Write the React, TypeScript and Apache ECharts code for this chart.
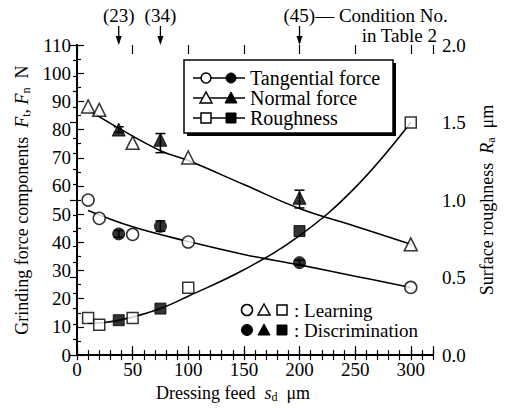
import React, { useEffect, useRef } from "react";
import * as echarts from "echarts";

// Learning data (open markers)
const xLearn = [10, 20, 50, 100, 300];
const tangLearn = [55, 48.5, 42.8, 40.1, 24];
const normLearn = [88.2, 87, 75.3, 70.1, 39.3];
const roughLearn = [0.24, 0.195, 0.24, 0.435, 1.5];

// Discrimination data (filled markers)
const xDisc = [37.5, 75, 200];
const tangDisc = [43, 45.7, 32.8];
const tangErrLow = [41.8, 43.9, 31.9];
const tangErrHigh = [44.2, 47.6, 33.7];
const normDisc = [80, 76.4, 55.8];
const normErrLow = [79, 71.8, 52.2];
const normErrHigh = [81, 78.6, 58.5];
const roughDisc = [0.225, 0.3, 0.8];
const conditionNo = ["(23)", "(34)", "(45)"];

// Fitted curves
const xCurveT = [10, 50, 100, 150, 200, 250, 300];
const tangCurve = [51.3, 45.5, 40.3, 35.7, 32, 28, 24];
const xCurveN = [10, 37.5, 75, 100, 150, 200, 250, 300];
const normCurve = [87, 80.5, 72.5, 69, 60.5, 52, 45.7, 39.3];
const xCurveR = [10, 25, 50, 75, 100, 150, 200, 250, 300];
const roughCurve = [0.205, 0.21, 0.245, 0.3, 0.38, 0.55, 0.77, 1.08, 1.5];

const xTicks = [0, 50, 100, 150, 200, 250, 300];

const FONT = "Liberation Serif, Times New Roman, serif";
const zip = (a: number[], b: number[]) => a.map((v, i) => [v, b[i]]);

export default function App() {
  const ref = useRef<HTMLDivElement>(null);
  useEffect(() => {
    if (!ref.current) return;
    const chart = echarts.init(ref.current, undefined, { renderer: "svg" });
    const axisLine = { show: true, lineStyle: { color: "#000", width: 1.8 } };
    const titleRich = {
      a: { fontFamily: FONT, fontSize: 18, color: "#000" },
      i: { fontFamily: FONT, fontSize: 18, fontStyle: "italic", color: "#000" },
      s: { fontFamily: FONT, fontSize: 12, color: "#000", padding: [8, 0, 0, 0] },
    };
    const errRender = (params: any, api: any) => {
      const x = api.value(0);
      const p1 = api.coord([x, api.value(1)]);
      const p2 = api.coord([x, api.value(2)]);
      const w = 5;
      const st = { stroke: "#000", lineWidth: 1.5 };
      return {
        type: "group",
        children: [
          { type: "line", shape: { x1: p1[0], y1: p1[1], x2: p2[0], y2: p2[1] }, style: st },
          { type: "line", shape: { x1: p1[0] - w, y1: p1[1], x2: p1[0] + w, y2: p1[1] }, style: st },
          { type: "line", shape: { x1: p2[0] - w, y1: p2[1], x2: p2[0] + w, y2: p2[1] }, style: st },
        ],
      };
    };
    const openStyle = { color: "#fff", borderColor: "#000", borderWidth: 1.5 };
    const fillStyle = { color: "#000", borderColor: "#000", borderWidth: 1 };
    const curve = (data: number[][], yAxisIndex: number) => ({
      type: "line",
      data,
      yAxisIndex,
      smooth: 0.4,
      showSymbol: false,
      lineStyle: { color: "#000", width: 1.6 },
      z: 1,
    });
    const scatter = (data: number[][], yAxisIndex: number, symbol: string, size: number, open: boolean) => ({
      type: "scatter",
      data,
      yAxisIndex,
      symbol,
      symbolSize: size,
      itemStyle: open ? openStyle : fillStyle,
      z: 5,
    });
    const majorX = (position: string) => ({
      type: "value",
      position,
      min: 0,
      max: 320,
      interval: 50,
      axisLine: { show: false },
      axisTick: { inside: true, length: 9, lineStyle: { color: "#000", width: 1.2 } },
      splitLine: { show: false },
      axisLabel: { show: false },
    });

    chart.setOption({
      animation: false,
      backgroundColor: "#fff",
      grid: { left: 77, right: 62, top: 45, bottom: 52 },
      xAxis: [
        {
          type: "value",
          position: "bottom",
          min: 0,
          max: 320,
          interval: 10,
          axisLine,
          axisTick: { inside: true, length: 5, lineStyle: { color: "#000", width: 1.2 } },
          splitLine: { show: false },
          axisLabel: {
            color: "#000",
            fontFamily: FONT,
            fontSize: 19,
            margin: 5,
            formatter: (v: number) => (xTicks.includes(v) ? String(v) : ""),
          },
          name: "{a|Dressing feed  }{i|s}{s|d}{a|  μm}",
          nameLocation: "middle",
          nameGap: 27,
          nameTextStyle: { rich: titleRich, padding: [0, 44, 0, 0] },
        },
        {
          type: "value",
          position: "top",
          min: 0,
          max: 320,
          interval: 10,
          axisLine,
          axisTick: { inside: true, length: 5, lineStyle: { color: "#000", width: 1.2 } },
          splitLine: { show: false },
          axisLabel: { show: false },
        },
        majorX("bottom"),
        majorX("top"),
      ],
      yAxis: [
        {
          type: "value",
          position: "left",
          min: 0,
          max: 110,
          interval: 10,
          axisLine,
          axisTick: { inside: true, length: 7, lineStyle: { color: "#000", width: 1.2 } },
          minorTick: { show: true, splitNumber: 2, length: 4, lineStyle: { color: "#000", width: 1.2 } },
          splitLine: { show: false },
          axisLabel: { color: "#000", fontFamily: FONT, fontSize: 19, margin: 6 },
          name: "{a|Grinding force components  }{i|F}{s|t}{a|, }{i|F}{s|n}{a|  N}",
          nameLocation: "middle",
          nameGap: 45,
          nameRotate: 90,
          nameTextStyle: { rich: titleRich },
        },
        {
          type: "value",
          position: "right",
          min: 0,
          max: 2,
          interval: 0.5,
          axisLine,
          axisTick: { inside: true, length: 7, lineStyle: { color: "#000", width: 1.2 } },
          minorTick: { show: true, splitNumber: 5, length: 4, lineStyle: { color: "#000", width: 1.2 } },
          splitLine: { show: false },
          axisLabel: {
            color: "#000",
            fontFamily: FONT,
            fontSize: 19,
            margin: 9,
            formatter: (v: number) => v.toFixed(1),
          },
          name: "{a|Surface roughness  }{i|R}{s|a}{a|  μm}",
          nameLocation: "middle",
          nameGap: 44,
          nameRotate: 90,
          nameTextStyle: { rich: titleRich },
        },
      ],
      series: [
        curve(zip(xCurveT, tangCurve), 0),
        curve(zip(xCurveN, normCurve), 0),
        curve(zip(xCurveR, roughCurve), 1),
        {
          type: "custom",
          yAxisIndex: 0,
          renderItem: errRender,
          data: xDisc.map((x, i) => [x, tangErrLow[i], tangErrHigh[i]]),
          z: 4,
        },
        {
          type: "custom",
          yAxisIndex: 0,
          renderItem: errRender,
          data: xDisc.map((x, i) => [x, normErrLow[i], normErrHigh[i]]),
          z: 4,
        },
        scatter(zip(xLearn, tangLearn), 0, "circle", 12, true),
        scatter(zip(xDisc, tangDisc), 0, "circle", 12, false),
        scatter(zip(xLearn, normLearn), 0, "triangle", 13, true),
        scatter(zip(xDisc, normDisc), 0, "triangle", 13, false),
        scatter(zip(xLearn, roughLearn), 1, "rect", 11, true),
        scatter(zip(xDisc, roughDisc), 1, "rect", 11, false),
      ],
    });

    // annotations positioned through the chart's own scale
    const g: any[] = [];
    const topY = 45;
    xDisc.forEach((v, i) => {
      const px = chart.convertToPixel({ xAxisIndex: 0 }, v) as number;
      g.push({
        type: "line",
        shape: { x1: px, y1: 26, x2: px, y2: topY - 2 },
        style: { stroke: "#000", lineWidth: 1.3 },
        z: 10,
      });
      g.push({
        type: "polygon",
        shape: { points: [[px - 3, topY - 9], [px + 3, topY - 9], [px, topY]] },
        style: { fill: "#000" },
        z: 10,
      });
      if (i < 2) {
        g.push({
          type: "text",
          x: px,
          y: 15,
          style: { text: conditionNo[i], font: `19px ${FONT}`, fill: "#000", align: "center", verticalAlign: "middle" },
        });
      } else {
        g.push({
          type: "text",
          x: px - 16,
          y: 15,
          style: {
            text: conditionNo[i] + "— Condition No.",
            font: `19px ${FONT}`,
            fill: "#000",
            align: "left",
            verticalAlign: "middle",
          },
        });
      }
    });
    g.push({
      type: "text",
      x: 437,
      y: 35,
      style: { text: "in Table 2", font: `19px ${FONT}`, fill: "#000", align: "right", verticalAlign: "middle" },
      z: 10,
    });

    // legend box
    const bx = 184, by = 60, bw = 209, bh = 73;
    g.push({ type: "rect", shape: { x: bx + 3, y: by + 3, width: bw, height: bh }, style: { fill: "#000" }, z: 20 });
    g.push({
      type: "rect",
      shape: { x: bx, y: by, width: bw, height: bh },
      style: { fill: "#fff", stroke: "#000", lineWidth: 1.5 },
      z: 21,
    });
    const rows = [
      { label: "Tangential force", sym: "circle" },
      { label: "Normal force", sym: "triangle" },
      { label: "Roughness", sym: "rect" },
    ];
    const marker = (sym: string, cx: number, cy: number, open: boolean, r: number, z: number) => {
      const style = open
        ? { fill: "#fff", stroke: "#000", lineWidth: 1.5 }
        : { fill: "#000", stroke: "#000", lineWidth: 1 };
      if (sym === "circle") return { type: "circle", shape: { cx, cy, r }, style, z };
      if (sym === "triangle")
        return {
          type: "polygon",
          shape: { points: [[cx, cy - r - 1], [cx - r - 1, cy + r], [cx + r + 1, cy + r]] },
          style,
          z,
        };
      return { type: "rect", shape: { x: cx - r, y: cy - r, width: 2 * r, height: 2 * r }, style, z };
    };
    rows.forEach((row, i) => {
      const y = 78 + i * 20;
      g.push({ type: "line", shape: { x1: 193, y1: y, x2: 245, y2: y }, style: { stroke: "#000", lineWidth: 1.5 }, z: 22 });
      g.push(marker(row.sym, 206, y, true, 5, 23));
      g.push(marker(row.sym, 231, y, false, 5, 23));
      g.push({
        type: "text",
        x: 250,
        y,
        style: { text: row.label, font: `20px ${FONT}`, fill: "#000", align: "left", verticalAlign: "middle" },
        z: 23,
      });
    });

    // bottom-right key
    const keyRows = [
      { label: ": Learning", open: true },
      { label: ": Discrimination", open: false },
    ];
    keyRows.forEach((k, i) => {
      const y = 310 + i * 20;
      g.push(marker("circle", 247, y, k.open, 5.5, 12));
      g.push(marker("triangle", 264, y, k.open, 5, 12));
      g.push(marker("rect", 282, y, k.open, 5, 12));
      g.push({
        type: "text",
        x: 294,
        y,
        style: { text: k.label, font: `19px ${FONT}`, fill: "#000", align: "left", verticalAlign: "middle" },
        z: 12,
      });
    });

    chart.setOption({ graphic: g });
    return () => chart.dispose();
  }, []);
  return <div ref={ref} style={{ width: 505, height: 408, position: "absolute", left: 0, top: 0 }} />;
}
